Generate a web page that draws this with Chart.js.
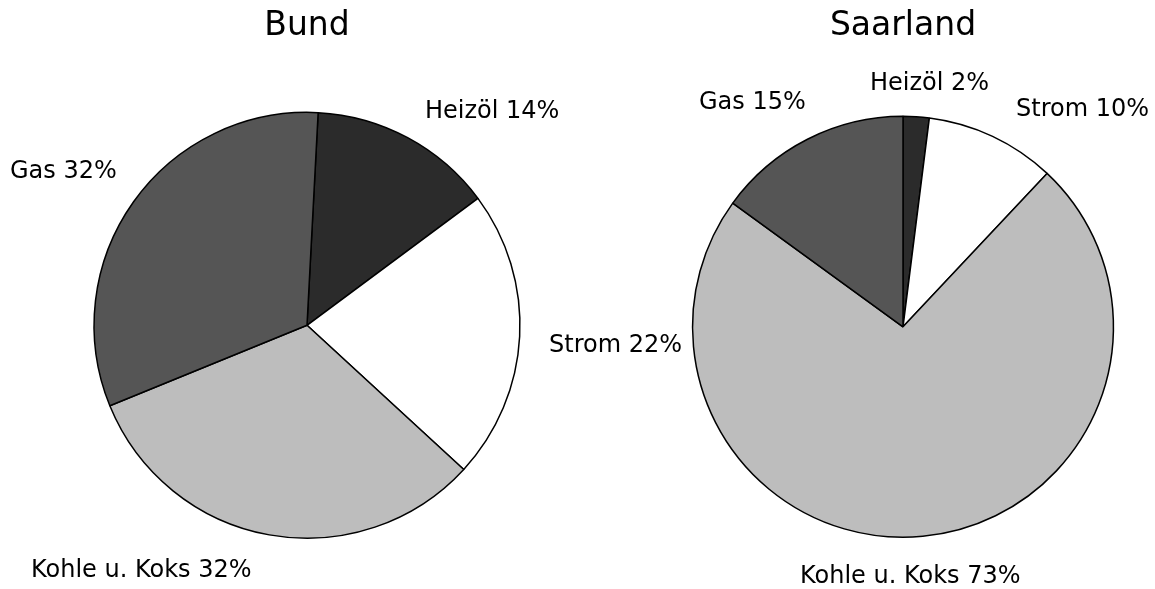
<!DOCTYPE html>
<html>
<head>
<meta charset="utf-8">
<script src="https://cdn.jsdelivr.net/npm/chart.js@4/dist/chart.umd.min.js"></script>
<style>
  body { margin: 0; background: #fff; }
  #wrap { position: relative; width: 1155px; height: 589px; overflow: hidden; }
  canvas { position: absolute; top: 0; }
  #bundChart { left: 0; }
  #saarChart { left: 653px; }
</style>
</head>
<body>
<div id="wrap">
  <canvas id="bundChart" width="700" height="589"></canvas>
  <canvas id="saarChart" width="500" height="589"></canvas>
</div>
<script>
// data
var categories = ['Heizöl', 'Strom', 'Kohle u. Koks', 'Gas'];
var bundValues = [14, 22, 32, 32];
var saarlandValues = [2, 10, 73, 15];

// look
var sliceColors = ['#2b2b2b', '#ffffff', '#bdbdbd', '#555555'];
var fontFamily = '"DejaVu Sans", Arial, sans-serif';

// where each label sits, in px from the pie centre (left edge, baseline)
var bundLabelPos = [[118, -207], [242, 27], [-276, 252], [-297, -147]];
var saarLabelPos = [[-33, -237], [113, -211], [-103, 256], [-204, -218]];

var sliceLabels = {
    id: 'sliceLabels',
    afterDatasetsDraw: function (chart, args, opts) {
        var ctx = chart.ctx;
        var meta = chart.getDatasetMeta(0);
        var values = chart.data.datasets[0].data;
        ctx.save();
        ctx.font = '24px ' + fontFamily;
        ctx.fillStyle = '#000';
        ctx.textAlign = 'left';
        ctx.textBaseline = 'alphabetic';
        meta.data.forEach(function (arc, i) {
            var p = opts.pos[i];
            ctx.fillText(chart.data.labels[i] + ' ' + values[i] + '%', arc.x + p[0], arc.y + p[1]);
        });
        ctx.restore();
    }
};

function drawPie(id, title, values, rotation, pos, padding, titlePad) {
    var ctx = document.getElementById(id).getContext('2d');
    return new Chart(ctx, {
        type: 'pie',
        data: {
            labels: categories,
            datasets: [{
                data: values,
                backgroundColor: sliceColors,
                borderColor: '#000',
                borderWidth: 1.5
            }]
        },
        options: {
            responsive: false,
            animation: false,
            devicePixelRatio: 1,
            rotation: rotation,
            layout: { padding: padding },
            plugins: {
                legend: { display: false },
                tooltip: { enabled: false },
                title: {
                    display: true,
                    text: title,
                    color: '#000',
                    font: { family: fontFamily, size: 33, weight: 'normal' },
                    padding: titlePad
                },
                sliceLabels: { pos: pos }
            }
        },
        plugins: [sliceLabels]
    });
}

drawPie('bundChart', 'Bund', bundValues, 3, bundLabelPos,
    { left: 0, right: 86, top: 0, bottom: 50 }, { top: 7, bottom: 65 });
drawPie('saarChart', 'Saarland', saarlandValues, 0, saarLabelPos,
    { left: 0, right: 0, top: 0, bottom: 51 }, { top: 7, bottom: 69 });
</script>
</body>
</html>
